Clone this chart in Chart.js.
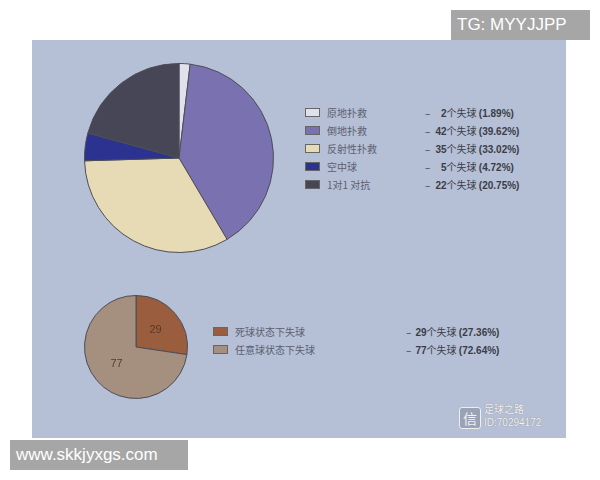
<!DOCTYPE html>
<html>
<head>
<meta charset="utf-8">
<script src="https://cdn.jsdelivr.net/npm/chart.js@4/dist/chart.umd.min.js"></script>
<style>
  body { margin: 0; width: 600px; height: 480px; background: #fff; position: relative; overflow: hidden;
         font-family: "Noto Sans CJK SC", "Noto Sans", sans-serif; }
  #panel { position: absolute; left: 32px; top: 40px; width: 534px; height: 398px; background: #b5bfd5; }
  .abs { position: absolute; }
  .tag { position: absolute; background: #a6a6a6; color: #fff; font-family: "Liberation Sans", Arial, sans-serif; }
  .legend { position: absolute; font-size: 10px; }
  .row { position: absolute; height: 12px; left: 0; white-space: nowrap; }
  .box { position: absolute; left: 0; top: 1px; width: 15px; height: 9px; border: 1px solid #666; box-sizing: border-box; }
  .lbl { position: absolute; top: -2px; color: #5b6072; }
  .val { position: absolute; top: -2px; color: #3a3d48; }
  .val b { display: inline-block; text-align: right; font-family: "Liberation Sans", Arial, sans-serif; font-weight: bold; }
  .val i { font-style: normal; font-family: "Liberation Sans", Arial, sans-serif; font-weight: bold; }
  .wm { position: absolute; left: 484px; color: #f4f4f4; font-size: 10px; line-height: 12px; text-shadow: 0 0 1px #777; white-space: nowrap; }
</style>
</head>
<body>
<div id="panel"></div>
<canvas id="bigPie" class="abs" style="left:84px;top:63px;width:190px;height:190px"></canvas>
<canvas id="smallPie" class="abs" style="left:84px;top:295px;width:104px;height:104px"></canvas>
<div id="legend1" class="legend" style="left:305px;top:107px"></div>
<div id="legend2" class="legend" style="left:213px;top:326px"></div>

<div class="tag" style="left:451px;top:10px;width:139px;height:30px;font-size:17px;line-height:30px;padding-left:6px;box-sizing:border-box">TG: MYYJJPP</div>
<div class="tag" style="left:10px;top:440px;width:178px;height:30px;font-size:17px;line-height:30px;padding-left:6px;box-sizing:border-box">www.skkjyxgs.com</div>

<div class="abs" style="left:459px;top:407px;width:20px;height:20px;border:1px solid #eee;border-radius:3px;background:#9aa3b6;color:#f2f2f2;font-size:14px;line-height:20px;text-align:center">信</div>
<div class="wm" style="top:403px">足球之路</div>
<div class="wm" style="top:417px;font-family:'Liberation Sans',Arial,sans-serif">ID:70294172</div>

<script>
// saves by type (big pie)
const saveTypes = ['原地扑救', '倒地扑救', '反射性扑救', '空中球', '1对1 对抗'];
const saveGoals = [2, 42, 35, 5, 22];
const savePct = ['1.89%', '39.62%', '33.02%', '4.72%', '20.75%'];
const saveColors = ['#e0e1ec', '#7a72b0', '#e6dbb5', '#2c3290', '#474656'];

// goals by ball state (small pie)
const stateTypes = ['死球状态下失球', '任意球状态下失球'];
const stateGoals = [29, 77];
const statePct = ['27.36%', '72.64%'];
const stateColors = ['#9a5e3e', '#a58f7e'];

function buildLegend(el, labels, values, pcts, colors, valLeft, numWidth) {
    labels.forEach((name, i) => {
        const row = document.createElement('div');
        row.className = 'row';
        row.style.top = (i * 18) + 'px';
        row.innerHTML =
            `<span class="box" style="background:${colors[i]}"></span>` +
            `<span class="lbl" style="left:22px">${name}</span>` +
            `<span class="val" style="left:${valLeft}px">–&nbsp;<b style="width:${numWidth}px">${values[i]}</b>个失球 <i>(${pcts[i]})</i></span>`;
        el.appendChild(row);
    });
}

buildLegend(document.getElementById('legend1'), saveTypes, saveGoals, savePct, saveColors, 120, 14);
buildLegend(document.getElementById('legend2'), stateTypes, stateGoals, statePct, stateColors, 193, 13);

// draws value in the middle of each slice
const sliceLabels = {
    id: 'sliceLabels',
    afterDatasetsDraw(chart, args, opts) {
        if (!opts.show) return;
        const ctx = chart.ctx;
        const meta = chart.getDatasetMeta(0);
        ctx.save();
        ctx.font = '11px "Liberation Sans", Arial, sans-serif';
        ctx.fillStyle = '#5a3a28';
        ctx.textAlign = 'center';
        ctx.textBaseline = 'middle';
        meta.data.forEach((arc, i) => {
            const p = arc.tooltipPosition();
            ctx.fillText(chart.data.datasets[0].data[i], p.x, p.y);
        });
        ctx.restore();
    }
};

function makePie(id, labels, data, colors, showValues) {
    return new Chart(document.getElementById(id), {
        type: 'pie',
        data: {
            labels,
            datasets: [{
                data,
                backgroundColor: colors,
                borderColor: '#4d4d55',
                borderWidth: 1,
            }]
        },
        options: {
            responsive: false,
            animation: false,
            layout: { padding: 0 },
            plugins: {
                legend: { display: false },
                tooltip: { enabled: false },
                sliceLabels: { show: showValues }
            }
        },
        plugins: [sliceLabels]
    });
}

// size canvases from their css boxes
['bigPie', 'smallPie'].forEach(id => {
    const c = document.getElementById(id);
    c.width = parseInt(c.style.width);
    c.height = parseInt(c.style.height);
});

makePie('bigPie', saveTypes, saveGoals, saveColors, false);
makePie('smallPie', stateTypes, stateGoals, stateColors, true);
</script>
</body>
</html>
